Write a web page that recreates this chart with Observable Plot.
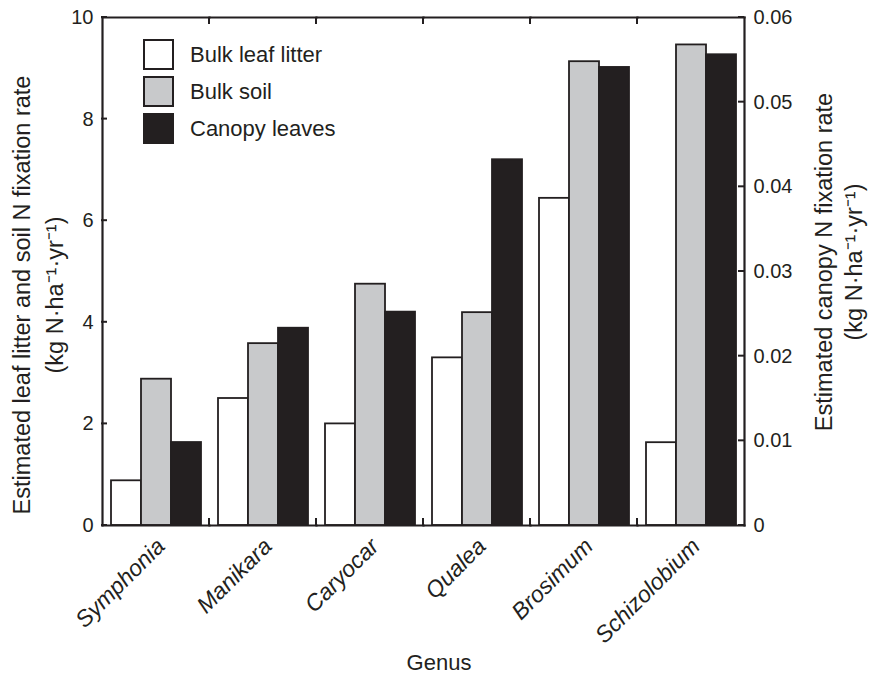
<!DOCTYPE html>
<html>
<head>
<meta charset="utf-8">
<script src="https://cdn.jsdelivr.net/npm/d3@7"></script>
<script src="https://cdn.jsdelivr.net/npm/@observablehq/plot@0.6"></script>
<style>
  body { margin: 0; background: #fff; }
  #wrap { position: relative; width: 876px; height: 680px; font-family: "Liberation Sans", Arial, Helvetica, sans-serif; color: #231f20; }
  .title { position: absolute; transform: translate(-50%, -50%) rotate(-90deg); white-space: nowrap; text-align: center; font-size: 23.5px; }
  .legend { position: absolute; left: 143px; top: 39px; }
  .item { display: flex; align-items: center; height: 37px; }
  .item .sw { width: 31px; height: 31px; box-sizing: border-box; border: 2px solid #231f20; margin-top: -6px; }
  .item .lab { margin-left: 16px; font-size: 22px; margin-top: -6px; }
  .xtitle { position: absolute; left: 439px; top: 663px; transform: translate(-50%, -50%); font-size: 22px; }
</style>
</head>
<body>
<div id="wrap"></div>
<script>
const genera = ["Symphonia", "Manikara", "Caryocar", "Qualea", "Brosimum", "Schizolobium"];
const series = ["Bulk leaf litter", "Bulk soil", "Canopy leaves"];
const litter = [0.88, 2.50, 2.00, 3.30, 6.44, 1.63];
const soil = [2.88, 3.58, 4.75, 4.19, 9.13, 9.46];
const canopy = [0.0098, 0.0233, 0.0252, 0.0432, 0.0541, 0.0556];
const leftTicks = [0, 2, 4, 6, 8, 10];
const rightTicks = [0, 0.01, 0.02, 0.03, 0.04, 0.05, 0.06];
const colors = ["#ffffff", "#c8c9cb", "#231f20"];
const leftMax = 10, rightMax = 0.06;
const leftTitle = ["Estimated leaf litter and soil N fixation rate", "(kg N\u00b7ha\u207b\u00b9\u00b7yr\u207b\u00b9)"];
const rightTitle = ["Estimated canopy N fixation rate", "(kg N\u00b7ha\u207b\u00b9\u00b7yr\u207b\u00b9)"];

const k = leftMax / rightMax;
const rows = genera.flatMap((g, i) => [
  {genus: g, series: series[0], value: litter[i]},
  {genus: g, series: series[1], value: soil[i]},
  {genus: g, series: series[2], value: canopy[i] * k}
]);

const ink = "#231f20";
const fmtRight = v => (Math.abs(v) < 1e-9 ? "0" : d3.format(".2f")(v));

const plot = Plot.plot({
  width: 876,
  height: 680,
  marginLeft: 101,
  marginRight: 132,
  marginTop: 17,
  marginBottom: 155,
  style: {fontFamily: '"Liberation Sans", Arial, Helvetica, sans-serif', fontSize: "20px", color: ink, background: "transparent"},
  fx: {domain: genera, padding: 0, label: null},
  x: {domain: series, paddingInner: 0, paddingOuter: 0.28, axis: null},
  y: {domain: [0, leftMax], axis: null},
  color: {domain: series, range: colors},
  marks: [
    Plot.barY(rows, {fx: "genus", x: "series", y: "value", fill: "series", stroke: ink, strokeWidth: 1.8}),
    Plot.frame({anchor: "top", stroke: ink, strokeWidth: 2.2}),
    Plot.frame({anchor: "bottom", stroke: ink, strokeWidth: 2.2}),
    Plot.frame({anchor: "left", facetAnchor: "left", stroke: ink, strokeWidth: 2.2}),
    Plot.frame({anchor: "right", facetAnchor: "right", stroke: ink, strokeWidth: 2.2}),
    Plot.axisY(leftTicks, {anchor: "left", tickSize: 0, tickPadding: 9, fontSize: 20, label: null, tickFormat: d => String(d)}),
    Plot.axisY(rightTicks.map(v => v * k), {anchor: "right", tickSize: 0, tickPadding: 9, fontSize: 20, label: null, tickFormat: d => fmtRight(d / k)}),
    Plot.axisFx({anchor: "bottom", tickRotate: -45, tickSize: 0, tickPadding: 17, dx: 5, fontSize: 23, fontStyle: "italic", label: null})
  ]
});

// inward tick marks, positioned through the plot's own scales
const fx = plot.scale("fx");
const ys = plot.scale("y");
const [xL, xR] = fx.range;
const yTop = ys.apply(leftMax), yBot = ys.apply(0);
const g = d3.select(plot).append("g").attr("stroke", ink).attr("stroke-width", 2);
genera.slice(1).forEach(name => {
  const xb = fx.apply(name);
  g.append("line").attr("x1", xb).attr("x2", xb).attr("y1", yTop).attr("y2", yTop + 7);
  g.append("line").attr("x1", xb).attr("x2", xb).attr("y1", yBot).attr("y2", yBot - 7);
});
leftTicks.forEach(v => {
  const yy = ys.apply(v);
  g.append("line").attr("x1", xL).attr("x2", xL + 6).attr("y1", yy).attr("y2", yy);
});
rightTicks.forEach(v => {
  const yy = ys.apply(v * k);
  g.append("line").attr("x1", xR).attr("x2", xR - 6).attr("y1", yy).attr("y2", yy);
});

const wrap = document.getElementById("wrap");
wrap.appendChild(plot);

function addTitle(lines, cx, cy, lh) {
  const d = document.createElement("div");
  d.className = "title";
  d.style.left = cx + "px";
  d.style.top = cy + "px";
  d.style.lineHeight = lh + "px";
  d.innerHTML = lines.join("<br>");
  wrap.appendChild(d);
}
addTitle(leftTitle, 39, 295, 33);
addTitle(rightTitle, 839, 262, 30);

const leg = document.createElement("div");
leg.className = "legend";
series.forEach((s, i) => {
  const it = document.createElement("div");
  it.className = "item";
  it.innerHTML = `<div class="sw" style="background:${colors[i]}"></div><div class="lab">${s}</div>`;
  leg.appendChild(it);
});
wrap.appendChild(leg);

const xt = document.createElement("div");
xt.className = "xtitle";
xt.textContent = "Genus";
wrap.appendChild(xt);
</script>
</body>
</html>
